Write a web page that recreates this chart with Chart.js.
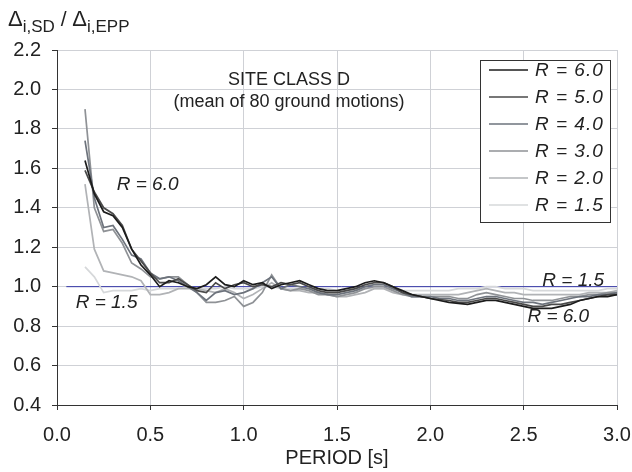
<!DOCTYPE html>
<html><head><meta charset="utf-8">
<script src="https://cdn.jsdelivr.net/npm/chart.js@4.4.0/dist/chart.umd.min.js"></script>
<style>html,body{margin:0;padding:0;background:#fff}</style>
</head><body>
<canvas id="c" width="632" height="472"></canvas>
<script>
// ---- data ----
const periods = [0.15,0.20,0.25,0.30,0.35,0.40,0.45,0.50,0.55,0.60,0.65,0.70,0.75,0.80,0.85,0.90,0.95,1.00,1.05,1.10,1.15,1.20,1.25,1.30,1.35,1.40,1.45,1.50,1.55,1.60,1.65,1.70,1.75,1.80,1.85,1.90,1.95,2.00,2.05,2.10,2.15,2.20,2.25,2.30,2.35,2.40,2.45,2.50,2.55,2.60,2.65,2.70,2.75,2.80,2.85,2.90,2.95,3.00];
const r60 = [1.64,1.47,1.38,1.36,1.30,1.19,1.11,1.06,1.00,1.03,1.02,1.00,0.99,1.01,1.05,1.01,1.00,1.03,1.01,1.02,0.99,1.01,1.02,1.03,1.01,0.99,0.98,0.98,0.99,1.00,1.02,1.03,1.02,1.00,0.98,0.96,0.95,0.94,0.93,0.92,0.915,0.91,0.92,0.93,0.93,0.92,0.91,0.90,0.89,0.89,0.89,0.90,0.91,0.93,0.94,0.95,0.95,0.96];
const r50 = [1.59,1.48,1.40,1.37,1.31,1.19,1.13,1.07,1.02,1.02,1.04,1.01,0.98,0.97,1.02,0.99,1.01,1.02,1.00,1.01,1.00,1.02,1.01,1.02,1.00,0.98,0.97,0.97,0.98,0.99,1.01,1.02,1.02,1.00,0.97,0.96,0.95,0.94,0.935,0.93,0.92,0.92,0.93,0.94,0.94,0.93,0.92,0.91,0.90,0.90,0.91,0.91,0.92,0.93,0.94,0.95,0.96,0.96];
const r40 = [1.74,1.45,1.30,1.31,1.24,1.16,1.14,1.07,1.04,1.05,1.03,1.00,0.97,0.93,0.97,0.98,0.96,0.97,0.99,1.02,1.05,0.99,1.01,1.00,0.99,0.97,0.96,0.96,0.97,0.98,1.00,1.01,1.01,0.99,0.97,0.95,0.95,0.95,0.94,0.94,0.93,0.93,0.94,0.95,0.95,0.94,0.93,0.92,0.92,0.91,0.92,0.93,0.94,0.95,0.95,0.96,0.96,0.97];
const r30 = [1.90,1.40,1.28,1.29,1.22,1.12,1.09,1.05,1.04,1.05,1.05,1.01,0.97,0.92,0.92,0.93,0.95,0.90,0.92,0.97,1.06,0.99,0.98,0.99,0.98,0.96,0.96,0.95,0.96,0.97,0.99,1.00,1.00,0.98,0.96,0.95,0.95,0.95,0.95,0.95,0.94,0.94,0.96,0.97,0.96,0.95,0.94,0.94,0.93,0.93,0.93,0.94,0.95,0.95,0.96,0.96,0.97,0.97];
const r20 = [1.52,1.19,1.08,1.07,1.06,1.05,1.03,0.96,0.96,0.97,0.99,0.99,0.99,0.98,0.97,0.99,0.97,0.94,0.96,0.99,1.02,0.99,0.98,0.98,0.97,0.97,0.96,0.95,0.95,0.96,0.97,0.99,0.99,0.97,0.96,0.96,0.96,0.96,0.96,0.96,0.96,0.97,0.98,0.99,0.98,0.97,0.97,0.96,0.96,0.96,0.96,0.96,0.96,0.96,0.97,0.97,0.97,0.98];
const r15 = [1.10,1.05,0.97,0.98,0.98,0.98,0.99,0.98,0.99,0.99,0.99,1.00,0.99,0.99,0.99,1.00,0.99,0.99,0.99,1.00,1.00,0.99,0.99,0.99,0.99,0.99,0.99,0.98,0.98,0.99,0.99,0.99,0.99,0.99,0.98,0.98,0.98,0.98,0.98,0.98,0.99,0.99,0.99,1.00,1.00,0.99,0.99,0.99,0.98,0.98,0.98,0.98,0.98,0.98,0.98,0.98,0.99,0.99];
const refX = [0.05, 3.0];
const refY = [1.0, 1.0];
const seriesLabels = ['R = 6.0','R = 5.0','R = 4.0','R = 3.0','R = 2.0','R = 1.5'];
const seriesColors = ['#1c1c1c','#4a4a4a','#6d737c','#8f9296','#b1b3b6','#d6d8da'];
const xTickValues = [0.0,0.5,1.0,1.5,2.0,2.5,3.0];
const yTickValues = [0.4,0.6,0.8,1.0,1.2,1.4,1.6,1.8,2.0,2.2];
const annotations = [
  {text:'R = 6.0', x:0.32, y:1.515},
  {text:'R = 1.5', x:0.10, y:0.92},
  {text:'R = 1.5', x:2.60, y:1.03},
  {text:'R = 6.0', x:2.52, y:0.85}
];

const FONT = '"Liberation Sans", Arial, sans-serif';
const seriesArrays = [r60,r50,r40,r30,r20,r15];
const datasets = seriesArrays.map((arr,i)=>({
  label: seriesLabels[i],
  data: periods.map((p,j)=>({x:p,y:arr[j]})),
  borderColor: seriesColors[i],
  borderWidth: 1.7,
  pointRadius: 0,
  tension: 0,
  fill: false
}));
datasets.push({
  label: 'ref',
  data: refX.map((x,i)=>({x:x,y:refY[i]})),
  borderColor: '#3436a6',
  borderWidth: 1,
  pointRadius: 0,
  fill: false
});

const overlay = {
  id: 'overlay',
  afterDraw(chart) {
    const ctx = chart.ctx;
    const xs = chart.scales.x, ys = chart.scales.y;
    ctx.save();
    ctx.fillStyle = '#222';
    // y axis title with subscripts
    let x = 8;
    const base = 26;
    const part = (t, size, dy) => {
      ctx.font = size + 'px ' + FONT;
      ctx.textBaseline = 'alphabetic';
      ctx.textAlign = 'left';
      ctx.fillText(t, x, base + dy);
      x += ctx.measureText(t).width;
    };
    part('\u0394', 22, 0);
    part('i,SD', 17, 6);
    part(' / ', 21, 0);
    part('\u0394', 22, 0);
    part('i,EPP', 17, 6);

    // site class text
    ctx.font = '18px ' + FONT;
    ctx.textAlign = 'center';
    ctx.textBaseline = 'middle';
    ctx.fillText('SITE CLASS D', 289, 80);
    ctx.fillText('(mean of 80 ground motions)', 289, 102);

    // annotations
    ctx.font = 'italic 19px ' + FONT;
    ctx.textAlign = 'left';
    annotations.forEach(a => {
      ctx.fillText(a.text, xs.getPixelForValue(a.x), ys.getPixelForValue(a.y));
    });

    // legend box
    const bx = 480, by = 60, bw = 130, bh = 162;
    ctx.fillStyle = '#fff';
    ctx.fillRect(bx, by, bw, bh);
    ctx.strokeStyle = '#333';
    ctx.lineWidth = 1;
    ctx.strokeRect(bx + 0.5, by + 0.5, bw, bh);
    for (let i = 0; i < seriesLabels.length; i++) {
      const yy = 70 + i * 27;
      ctx.strokeStyle = seriesColors[i];
      ctx.lineWidth = 1.7;
      ctx.beginPath();
      ctx.moveTo(489, yy);
      ctx.lineTo(528, yy);
      ctx.stroke();
      ctx.fillStyle = '#222';
      ctx.font = 'italic 19px ' + FONT;
      ctx.letterSpacing = '1px';
      ctx.textAlign = 'left';
      ctx.textBaseline = 'middle';
      ctx.fillText(seriesLabels[i], 535, yy + 1);
      ctx.letterSpacing = '0px';
    }
    ctx.restore();
  }
};

new Chart(document.getElementById('c'), {
  type: 'line',
  data: { datasets },
  options: {
    responsive: false,
    animation: false,
    devicePixelRatio: 1,
    layout: { padding: { top: 50, right: 0, left: 0, bottom: 0 } },
    plugins: { legend: { display: false }, tooltip: { enabled: false } },
    scales: {
      x: {
        type: 'linear', min: 0, max: 3,
        afterFit(s) { s.height = 67; s.paddingLeft = 0; s.paddingRight = 15; },
        afterBuildTicks(s) { s.ticks = xTickValues.map(v => ({value: v})); },
        ticks: { color: '#222', font: { family: FONT, size: 20 }, padding: 13, maxRotation: 0,
                 callback: v => Number(v).toFixed(1) },
        grid: { color: '#cfd1d6', lineWidth: 1, tickLength: 5, tickColor: '#333' },
        border: { color: '#333', width: 1 },
        title: { display: true, text: 'PERIOD [s]', color: '#222', font: { family: FONT, size: 20 }, padding: { top: 0, bottom: 2 } }
      },
      y: {
        type: 'linear', min: 0.4, max: 2.2,
        afterFit(s) { s.width = 57; s.paddingTop = 0; s.paddingBottom = 0; },
        afterBuildTicks(s) { s.ticks = yTickValues.map(v => ({value: v})); },
        ticks: { color: '#222', font: { family: FONT, size: 20 }, padding: 11,
                 callback: v => Number(v).toFixed(1) },
        grid: { color: '#cfd1d6', lineWidth: 1, tickLength: 5, tickColor: '#333' },
        border: { color: '#333', width: 1 }
      }
    }
  },
  plugins: [overlay]
});
</script>
</body></html>
